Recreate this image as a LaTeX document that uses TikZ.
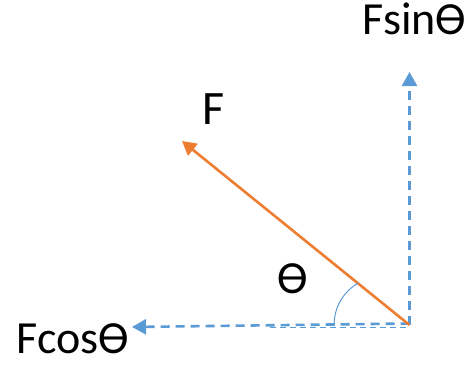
\documentclass[tikz,border=0pt]{standalone}
\usepackage{fontspec}
\setmainfont{Carlito}
\usetikzlibrary{arrows.meta}
\definecolor{offblue}{HTML}{5B9BD5}
\definecolor{offorange}{HTML}{ED7D31}
\tikzset{
  comp/.style={draw=offblue, line width=2.6pt, dash pattern=on 9pt off 6pt, -{Triangle[length=14pt,width=15pt]}},
  force/.style={draw=offorange, line width=2.6pt, -{Triangle[length=14pt,width=15pt]}},
  thinref/.style={draw=offblue, line width=1pt, dash pattern=on 6pt off 4pt},
  anglearc/.style={draw=offblue, line width=1pt},
  lbl/.style={inner sep=0pt, anchor=base, font=\fontsize{46}{48}\selectfont},
}
\begin{document}
\begin{tikzpicture}[x=1pt,y=-1pt]
\useasboundingbox (0,0) rectangle (470,364);
\coordinate (O) at (409.5,325);
\coordinate (Oh) at (409.5,323.5);
\coordinate (Ttop) at (409.5,72);
\coordinate (Tleft) at (132,327);
\coordinate (Tf) at (182,141);
\coordinate (Rs) at (270,327.5);
\coordinate (Re) at (409.5,327.5);
\coordinate (A1) at (334,326);
\coordinate (A2) at (358,283);
\draw[thinref] (Rs) -- (Re);
\draw[comp] (O) -- (Ttop);
\draw[comp] (Oh) -- (Tleft);
\draw[force] (O) -- (Tf);
\draw[anglearc] (A1) .. controls (334,305) and (345,291) .. (A2);
\node[lbl] (fsin) at (414.5,34) {FsinӨ};
\node[lbl] (fcos) at (73,353) {FcosӨ};
\node[lbl, font=\fontsize{48}{50}\selectfont] (f) at (213.5,124) {F};
\node[lbl] (th) at (293,293) {Ө};
\end{tikzpicture}
\end{document}
